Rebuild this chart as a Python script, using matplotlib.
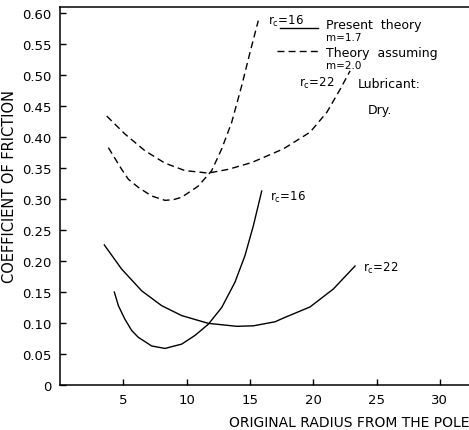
import numpy as np
import matplotlib
matplotlib.use("Agg")
import matplotlib.pyplot as plt

# solid curves: present theory, m=1.7
solid16_x = [4.29, 4.61, 5.13, 5.66, 6.18, 7.24, 8.29, 9.61, 10.66, 11.71, 12.77, 13.82, 14.61, 15.27, 15.93]
solid16_y = [0.150, 0.128, 0.106, 0.088, 0.077, 0.063, 0.059, 0.066, 0.080, 0.098, 0.125, 0.166, 0.209, 0.257, 0.313]

solid22_x = [3.50, 4.87, 6.45, 8.03, 9.61, 11.71, 13.96, 15.27, 16.98, 17.64, 19.75, 21.59, 23.30]
solid22_y = [0.226, 0.187, 0.152, 0.128, 0.112, 0.0995, 0.0947, 0.0955, 0.102, 0.108, 0.126, 0.155, 0.192]

# dashed curves: theory assuming m=2.0
dash16_x = [3.82, 4.87, 5.40, 6.18, 7.24, 8.29, 8.95, 9.61, 10.92, 11.98, 12.77, 13.56, 14.35, 15.01, 15.66]
dash16_y = [0.383, 0.348, 0.332, 0.319, 0.305, 0.298, 0.299, 0.303, 0.321, 0.346, 0.381, 0.424, 0.483, 0.537, 0.588]

dash22_x = [3.69, 5.13, 6.71, 8.29, 9.87, 11.71, 13.29, 15.14, 17.64, 19.75, 21.07, 22.12, 22.91]
dash22_y = [0.434, 0.405, 0.378, 0.358, 0.346, 0.342, 0.348, 0.359, 0.381, 0.408, 0.440, 0.477, 0.507]

xticks = [5, 10, 15, 20, 25, 30]
yticks = [0, 0.05, 0.10, 0.15, 0.20, 0.25, 0.30, 0.35, 0.40, 0.45, 0.50, 0.55, 0.60]
ytick_labels = ["0", "0.05", "0.10", "0.15", "0.20", "0.25", "0.30",
                "0.35", "0.40", "0.45", "0.50", "0.55", "0.60"]

plt.rcParams['font.family'] = 'DejaVu Sans'

fig = plt.figure(figsize=(4.69, 4.31), dpi=100)
ax = fig.add_axes([60/469, 45/431, 409/469, 378/431])

dash = (0, (5, 3))
ax.plot(solid16_x, solid16_y, color='black', lw=1.0)
ax.plot(solid22_x, solid22_y, color='black', lw=1.0)
ax.plot(dash16_x, dash16_y, color='black', lw=1.0, linestyle=dash)
ax.plot(dash22_x, dash22_y, color='black', lw=1.0, linestyle=dash)

ax.set_xlim(0, 32.3)
ax.set_ylim(0, 0.61)
ax.spines['right'].set_visible(False)
for s in ['left', 'bottom', 'top']:
    ax.spines[s].set_linewidth(1.1)

ax.set_xticks(xticks)
ax.set_yticks(yticks)
ax.set_yticklabels(ytick_labels)
ax.tick_params(direction='in', length=4, width=1.0, labelsize=9.5)
ax.tick_params(axis='y', pad=6)
ax.tick_params(axis='x', pad=6)

ax.set_ylabel("COEFFICIENT OF FRICTION", fontsize=10.5)
ax.yaxis.set_label_coords(-0.105, 0.529)
ax.set_xlabel("ORIGINAL RADIUS FROM THE POLE", fontsize=10)
ax.xaxis.set_label_coords(0.707, -0.079)

rc = r'$\mathregular{r_c}$'
# legend-like annotations
ax.text(16.4, 0.589, rc + "=16", fontsize=8.5, ha='left', va='center')
ax.plot([17.4, 20.4], [0.576, 0.576], color='black', lw=1.0)
ax.text(21.0, 0.581, "Present  theory", fontsize=9, ha='left', va='center')
ax.text(21.0, 0.561, "m=1.7", fontsize=7.5, ha='left', va='center')
ax.plot([17.1, 20.6], [0.539, 0.539], color='black', lw=1.0, linestyle=dash)
ax.text(21.0, 0.537, "Theory  assuming", fontsize=9, ha='left', va='center')
ax.text(21.0, 0.516, "m=2.0", fontsize=7.5, ha='left', va='center')
ax.text(18.9, 0.488, rc + "=22", fontsize=8.5, ha='left', va='center')
ax.text(23.5, 0.487, "Lubricant:", fontsize=9, ha='left', va='center')
ax.text(24.3, 0.445, "Dry.", fontsize=9, ha='left', va='center')

ax.text(16.6, 0.305, rc + "=16", fontsize=8.5, ha='left', va='center')
ax.text(23.9, 0.190, rc + "=22", fontsize=8.5, ha='left', va='center')

fig.savefig("out.png", dpi=100)
